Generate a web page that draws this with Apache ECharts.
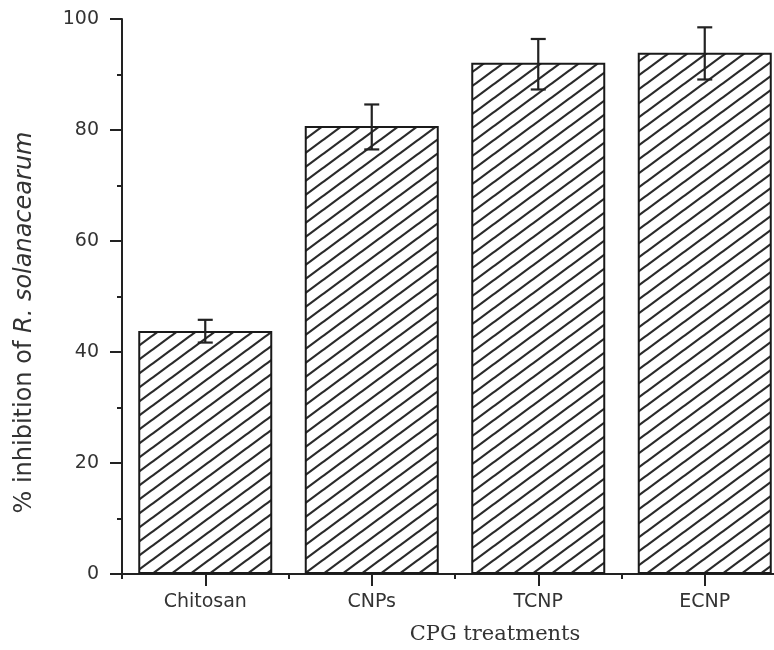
<!DOCTYPE html>
<html>
<head>
<meta charset="utf-8">
<script src="https://cdn.jsdelivr.net/npm/echarts@6/dist/echarts.min.js"></script>
<style>
    html, body { margin: 0; padding: 0; background: #fff; overflow: hidden; }
    #chart { width: 800px; height: 650px; }
</style>
</head>
<body>
<div id="chart"></div>
<script>
var categories = ['Chitosan', 'CNPs', 'TCNP', 'ECNP'];
var inhibition = [43.8, 80.7, 92.1, 93.9];
var errLow = [41.7, 76.5, 87.3, 89.1];
var errHigh = [45.8, 84.6, 96.4, 98.5];

/* diagonal hatch tile */
var makeHatch = function () {
    var w = 19, h = 14;
    var c = document.createElement('canvas');
    c.width = w;
    c.height = h;
    var ctx = c.getContext('2d');
    ctx.fillStyle = '#fff';
    ctx.fillRect(0, 0, w, h);
    ctx.strokeStyle = '#2a2a2a';
    ctx.lineWidth = 2.2;
    [-w, 0, w].forEach(function (dx) {
        ctx.beginPath();
        ctx.moveTo(dx - w, 2 * h);
        ctx.lineTo(dx + 2 * w, -h);
        ctx.stroke();
    });
    return c;
};

var errData = categories.map(function (c, i) {
    return [i, errLow[i], errHigh[i]];
});

var myChart = echarts.init(document.getElementById('chart'));
var sans = 'DejaVu Sans';
var option = {
    animation: false,
    backgroundColor: '#fff',
    grid: { left: 122, top: 19, width: 666, height: 555 },
    xAxis: [{
        type: 'category',
        data: categories,
        name: 'CPG treatments',
        nameLocation: 'middle',
        nameGap: 50,
        nameTextStyle: { fontFamily: 'DejaVu Serif', fontSize: 21, color: '#333', padding: [0, 0, 0, 80] },
        axisLine: { lineStyle: { color: '#222', width: 2 } },
        axisTick: { show: true, alignWithLabel: true, length: 12, lineStyle: { color: '#222', width: 2 } },
        axisLabel: { fontFamily: sans, fontSize: 19, color: '#333', margin: 19 }
    }, {
        type: 'category',
        data: categories,
        position: 'bottom',
        axisLine: { show: true, lineStyle: { color: '#222', width: 2, opacity: 0 } },
        axisTick: { show: true, length: 5, lineStyle: { color: '#222', width: 2 } },
        axisLabel: { show: false }
    }],
    yAxis: {
        type: 'value',
        min: 0,
        max: 100,
        interval: 20,
        name: '{a|% inhibition of }{b|R. solanacearum}',
        nameLocation: 'middle',
        nameGap: 85,
        nameTextStyle: {
            color: '#333',
            padding: [0, 52, 0, 0],
            rich: {
                a: { fontFamily: sans, fontSize: 24, color: '#333' },
                b: { fontFamily: sans, fontSize: 24, fontStyle: 'italic', color: '#333' }
            }
        },
        axisLine: { show: true, lineStyle: { color: '#222', width: 2 } },
        axisTick: { show: true, length: 12, lineStyle: { color: '#222', width: 2 } },
        minorTick: { show: true, splitNumber: 2, length: 5, lineStyle: { color: '#222', width: 2 } },
        splitLine: { show: false },
        axisLabel: { fontFamily: sans, fontSize: 19, color: '#333', margin: 23 }
    },
    series: [{
        name: 'inhibition',
        type: 'bar',
        barWidth: 134,
        data: inhibition,
        itemStyle: {
            color: { image: makeHatch(), repeat: 'repeat' },
            borderColor: '#1a1a1a',
            borderWidth: 2
        },
        z: 2
    }, {
        name: 'error',
        type: 'custom',
        data: errData,
        z: 5,
        renderItem: function (params, api) {
            var x = api.value(0);
            var lo = api.coord([x, api.value(1)]);
            var hi = api.coord([x, api.value(2)]);
            var half = 7.5;
            var st = { stroke: '#222', lineWidth: 2.2 };
            return {
                type: 'group',
                children: [
                    { type: 'line', shape: { x1: hi[0], y1: hi[1], x2: lo[0], y2: lo[1] }, style: st },
                    { type: 'line', shape: { x1: hi[0] - half, y1: hi[1], x2: hi[0] + half, y2: hi[1] }, style: st },
                    { type: 'line', shape: { x1: lo[0] - half, y1: lo[1], x2: lo[0] + half, y2: lo[1] }, style: st }
                ]
            };
        }
    }]
};
myChart.setOption(option);
</script>
</body>
</html>
